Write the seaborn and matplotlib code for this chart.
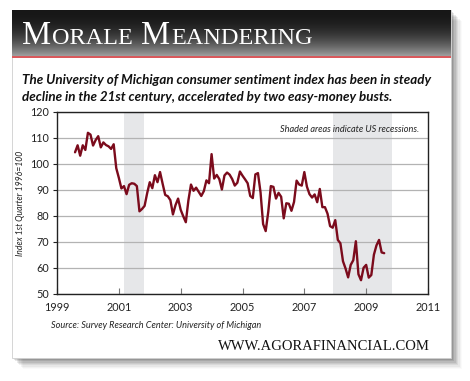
import numpy as np
import pandas as pd
import matplotlib
matplotlib.use("Agg")
import matplotlib.pyplot as plt
import seaborn as sns
from matplotlib.patches import Rectangle

# ---------------- data (monthly, Aug 1999 - Aug 2009) ----------------
start_year = 1999
start_month = 8
sentiment = [
    104.5, 107.2, 103.2, 107.2, 105.4,                                  # 1999 Aug-Dec
    112.0, 111.3, 107.1, 109.2, 110.7, 106.4, 108.3, 107.3, 106.8, 105.8, 107.6, 98.4,   # 2000
    94.7, 90.6, 91.5, 88.4, 92.0, 92.6, 92.4, 91.5, 81.8, 82.7, 83.9, 88.8,              # 2001
    93.0, 90.7, 95.7, 93.0, 96.9, 92.4, 88.1, 87.6, 86.1, 80.6, 84.2, 86.7,              # 2002
    82.4, 79.9, 77.6, 86.0, 92.1, 89.7, 90.9, 89.3, 87.7, 89.6, 93.7, 92.6,              # 2003
    103.8, 94.4, 95.8, 94.2, 90.2, 95.6, 96.7, 95.9, 94.2, 91.7, 92.8, 97.1,             # 2004
    95.5, 94.1, 92.6, 87.7, 86.9, 96.0, 96.5, 89.1, 76.9, 74.2, 81.6, 91.5,              # 2005
    91.2, 86.7, 88.9, 87.4, 79.1, 84.9, 84.7, 82.0, 85.4, 93.6, 92.1, 91.7,              # 2006
    96.9, 91.3, 88.4, 87.1, 88.3, 85.3, 90.4, 83.4, 83.4, 80.9, 76.1, 75.5,              # 2007
    78.4, 70.8, 69.5, 62.6, 59.8, 56.4, 61.2, 63.0, 70.3, 57.6, 55.3, 60.1,              # 2008
    61.2, 56.3, 57.3, 65.1, 68.7, 70.8, 66.0, 65.7,                                      # 2009
]
recession_starts = [2001.17, 2007.92]
recession_ends = [2001.83, 2009.82]
x_ticks = [1999, 2001, 2003, 2005, 2007, 2009, 2011]
y_ticks = [50, 60, 70, 80, 90, 100, 110, 120]

dates = pd.date_range(f"{start_year}-{start_month:02d}-01", periods=len(sentiment), freq="MS")
df = pd.DataFrame({"year": dates.year + (dates.month - 1) / 12.0, "index": sentiment})

# ---------------- figure ----------------
W, H = 470, 381
sns.set_style("white")
plt.rcParams["font.family"] = ["Lato", "DejaVu Sans"]
fig = plt.figure(figsize=(W / 100, H / 100), dpi=100)
fig.patch.set_facecolor("white")

bg = fig.add_axes([0, 0, 1, 1], zorder=-5)
bg.set_xlim(0, W)
bg.set_ylim(H, 0)
bg.axis("off")

# drop shadow
for i, a in enumerate(np.linspace(0.10, 0.02, 8)):
    d = 2 + i * 1.3
    bg.add_patch(Rectangle((12 + d, 10 + d), 439, 348, facecolor="black",
                           alpha=a, edgecolor="none", zorder=0))
# panel
bg.add_patch(Rectangle((12, 10), 439, 348, facecolor="white", edgecolor="#cfcfcf",
                       linewidth=0.6, zorder=1))
# title bar gradient
grad = np.linspace(0, 1, 100) ** 2.2
cols = np.zeros((100, 1, 3))
top_c = np.array([0.09, 0.09, 0.09])
bot_c = np.array([0.62, 0.62, 0.62])
cols[:, 0, :] = top_c + (bot_c - top_c) * grad[:, None]
bg.imshow(cols, extent=(12, 451, 56, 10), aspect="auto", zorder=2, interpolation="bilinear")
bg.set_xlim(0, W)
bg.set_ylim(H, 0)
bg.add_patch(Rectangle((12, 56), 439, 2.2, facecolor="#d9595c", edgecolor="none", zorder=3))

# small-caps title
fig.canvas.draw()
renderer = fig.canvas.get_renderer()
x_cur = 22
base_y = 43.5
parts = [("M", 23.5), ("ORALE", 17.5), (" ", 17.5), ("M", 23.5), ("EANDERING", 17.5)]
for txt, size in parts:
    t = bg.text(x_cur, base_y, txt, color="white", fontsize=size,
                family=["Liberation Serif", "DejaVu Serif"], va="baseline", ha="left", zorder=4)
    bb = t.get_window_extent(renderer=renderer)
    x_cur += bb.width + 1.0

# subtitle
bg.text(22, 80, "The University of Michigan consumer sentiment index has been in steady",
        fontsize=9.6, fontweight="bold", style="italic", color="#111111", va="center", ha="left")
bg.text(22, 97, "decline in the 21st century, accelerated by two easy-money busts.",
        fontsize=9.6, fontweight="bold", style="italic", color="#111111", va="center", ha="left")

# source & url
bg.text(51, 325, "Source: Survey Research Center: University of Michigan",
        fontsize=6.6, style="italic", color="#222222", va="center", ha="left")
bg.text(430, 346, "WWW.AGORAFINANCIAL.COM", fontsize=10.5, color="#111111",
        family=["Liberation Serif", "DejaVu Serif"], va="center", ha="right")

# ---------------- main chart ----------------
left, right, top, bottom = 57, 428, 112, 294
ax = fig.add_axes([left / W, 1 - bottom / H, (right - left) / W, (bottom - top) / H])
ax.set_facecolor("none")

for s, e in zip(recession_starts, recession_ends):
    ax.axvspan(s, e, color="#e6e7e9", zorder=0, linewidth=0)

sns.lineplot(data=df, x="year", y="index", ax=ax, color="#7b0b1c", linewidth=1.7, zorder=3)

ax.set_xlim(1999, 2011)
ax.set_ylim(50, 120)
ax.set_xticks(x_ticks)
ax.set_yticks(y_ticks)
ax.set_xticklabels([str(v) for v in x_ticks])
ax.set_yticklabels([str(v) for v in y_ticks])
ax.yaxis.grid(True, color="#b3b3b3", linewidth=0.9, zorder=1)
ax.set_axisbelow(True)
for sp in ax.spines.values():
    sp.set_visible(True)
    sp.set_color("#222222")
    sp.set_linewidth(1.0)
ax.tick_params(axis="x", direction="in", length=4, width=0.8, color="#777777",
               labelsize=7.8, pad=6, labelcolor="#222222")
ax.tick_params(axis="y", direction="out", length=3, width=0.8, color="#222222",
               labelsize=7.8, pad=2.5, labelcolor="#222222", left=True)
ax.tick_params(axis="x", bottom=True)
ax.set_xlabel("")
ax.set_ylabel("Index 1st Quarter 1996=100", fontsize=6.2, style="italic", color="#222222",
              labelpad=4)
ax.text(0.975, 0.905, "Shaded areas indicate US recessions.", transform=ax.transAxes,
        fontsize=6.6, style="italic", color="#222222", ha="right", va="center")

fig.savefig("out.png", dpi=100)
